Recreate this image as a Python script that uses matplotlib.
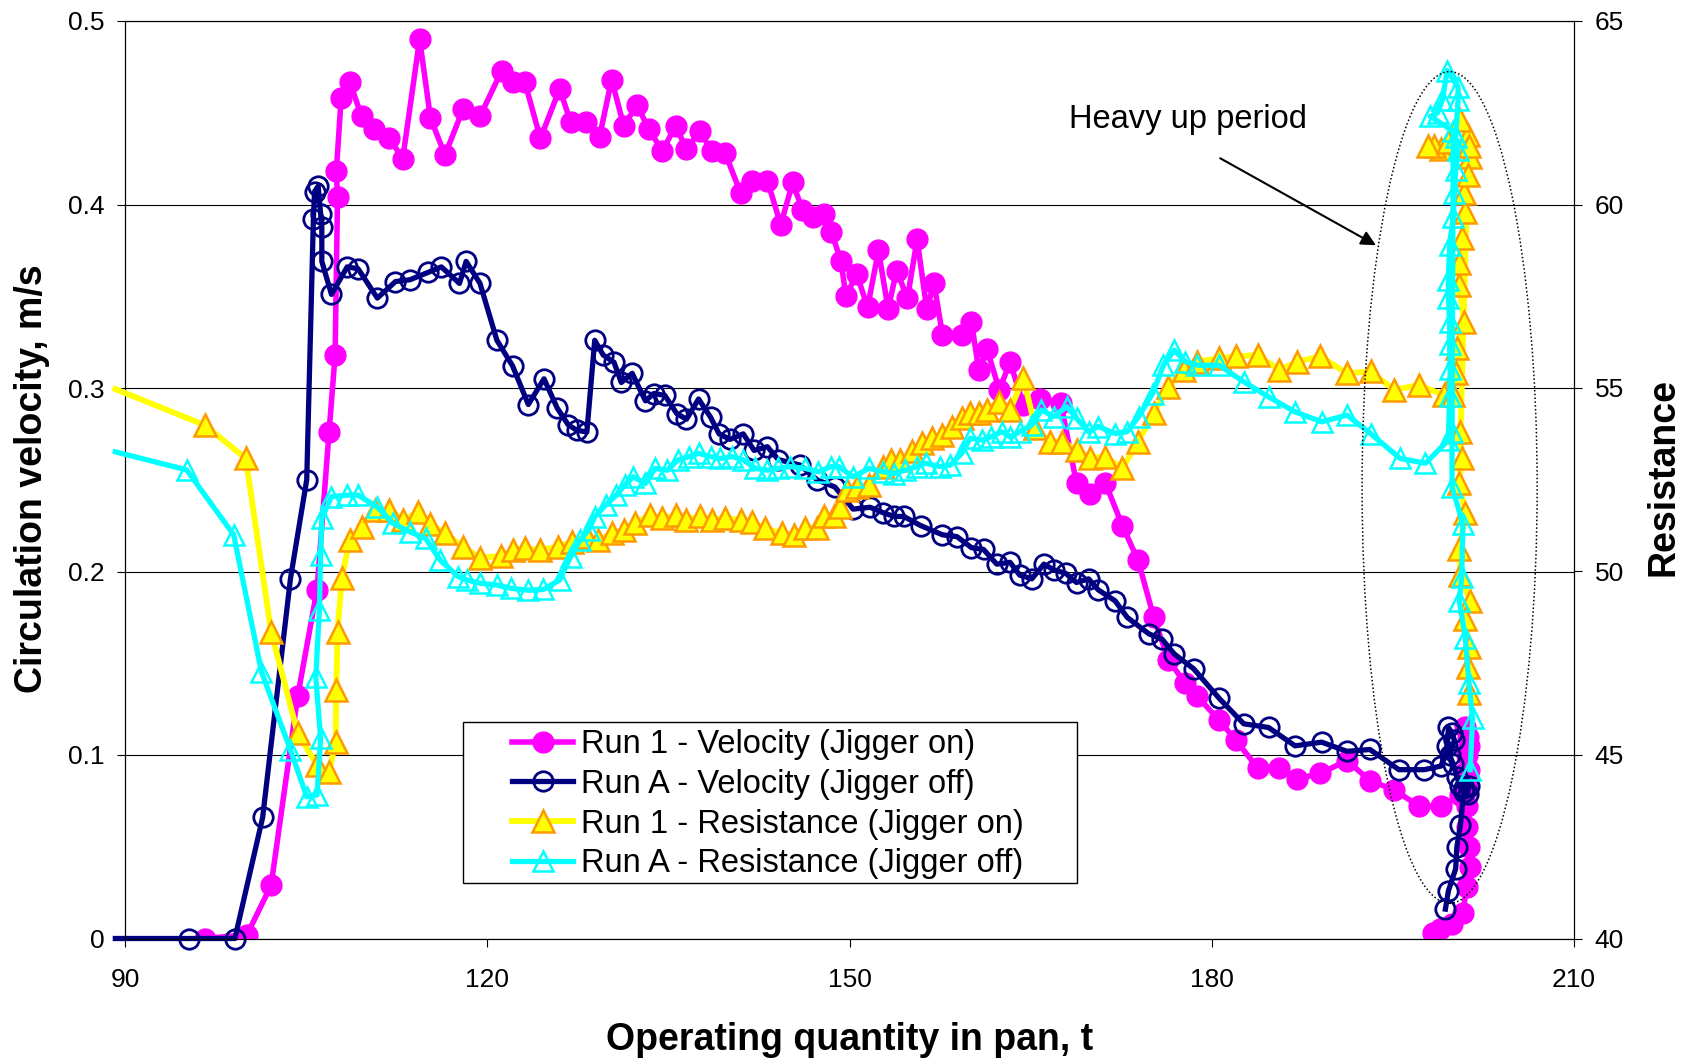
import matplotlib
matplotlib.use('Agg')
import matplotlib.pyplot as plt
from matplotlib.patches import Ellipse, Rectangle

plt.rcParams['font.family'] = ['Liberation Sans', 'DejaVu Sans']

# ---------------- data ----------------
run1_vel_x = [96.6, 100.1, 102.1, 104.3, 105.9, 106.9, 107.4, 107.6, 107.5, 107.9, 108.6, 109.6, 110.6,
              111.9, 113.0, 114.4, 115.3, 116.5, 118.0, 119.4, 121.2, 122.1, 123.1, 124.4, 126.0, 126.9,
              128.2, 129.3, 130.3, 131.3, 132.4, 133.4, 134.5, 135.6, 136.5, 137.6, 138.6, 139.7, 141.0,
              141.9, 143.2, 144.3, 145.3, 146.1, 147.0, 147.9, 148.5, 149.3, 149.7, 150.6, 151.5, 152.4,
              153.2, 153.9, 154.8, 155.6, 156.4, 157.0, 157.7, 159.3, 160.1, 160.7, 161.4, 162.4, 163.3,
              164.4, 165.8, 167.5, 168.8, 169.9, 171.2, 172.6, 173.9, 175.2, 176.4, 177.8, 178.8, 180.6,
              182.0, 183.8, 185.6, 187.1, 189.0, 191.2, 193.1, 195.1, 197.2, 199.0,
              200.6, 200.9, 201.1, 201.2, 201.0, 201.3, 201.3, 201.2, 201.1, 201.1, 201.3, 201.4, 201.1,
              200.8, 199.9, 198.9, 198.3]
run1_vel_y = [0.000, 0.002, 0.029, 0.132, 0.190, 0.276, 0.318, 0.404, 0.418, 0.458, 0.467, 0.448, 0.441,
              0.436, 0.425, 0.490, 0.447, 0.427, 0.452, 0.448, 0.473, 0.467, 0.467, 0.436, 0.463, 0.445,
              0.445, 0.437, 0.468, 0.443, 0.454, 0.441, 0.429, 0.443, 0.430, 0.440, 0.429, 0.428, 0.406,
              0.413, 0.413, 0.389, 0.412, 0.397, 0.393, 0.395, 0.385, 0.369, 0.350, 0.362, 0.344, 0.375,
              0.343, 0.364, 0.349, 0.381, 0.343, 0.357, 0.329, 0.329, 0.336, 0.310, 0.321, 0.299, 0.314,
              0.291, 0.294, 0.292, 0.248, 0.242, 0.248, 0.225, 0.206, 0.175, 0.152, 0.139, 0.132, 0.119,
              0.108, 0.093, 0.093, 0.087, 0.090, 0.097, 0.086, 0.081, 0.072, 0.072,
              0.078, 0.090, 0.100, 0.110, 0.115, 0.105, 0.092, 0.082, 0.072, 0.061, 0.050, 0.039, 0.028,
              0.014, 0.008, 0.005, 0.003]

runA_vel_x = [89.2, 95.3, 99.1, 101.4, 103.7, 105.05, 105.6, 105.7, 106.0, 106.2, 106.3, 106.3,
              107.1, 108.4, 109.3, 110.9, 112.4, 113.6, 115.1, 116.2, 117.7, 118.25, 119.4, 120.8, 122.1,
              123.4, 124.7, 125.8, 126.7, 127.4, 128.25, 128.9, 129.6, 130.5, 131.1, 132.0, 133.1, 133.8,
              134.7, 135.7, 136.5, 137.5, 138.5, 139.2, 140.1, 141.2, 142.1, 143.2, 144.1, 145.9, 147.3,
              148.8, 150.3, 151.7, 152.8, 153.7, 154.5, 155.9, 157.7, 158.9, 160.1, 161.1, 162.2, 163.3,
              164.1, 165.1, 166.1, 166.9, 167.9, 168.8, 169.8, 170.6, 172.0, 173.0, 174.8, 175.9, 176.9,
              178.5, 180.6, 182.65, 184.7, 186.9, 189.1, 191.2, 193.1, 195.5, 197.6, 199.0,
              199.5, 199.6, 199.9, 200.1, 199.7, 200.0, 200.3, 200.6, 200.9, 201.2, 201.3, 200.9, 200.6,
              200.3, 200.2, 199.6, 199.35]
runA_vel_y = [0.000, 0.000, 0.000, 0.066, 0.196, 0.250, 0.392, 0.407, 0.410, 0.395, 0.388,
              0.369, 0.351, 0.366, 0.365, 0.349, 0.358, 0.359, 0.363, 0.366, 0.357, 0.369, 0.357, 0.326,
              0.312, 0.291, 0.305, 0.289, 0.280, 0.277, 0.276, 0.326, 0.318, 0.314, 0.303, 0.308, 0.293,
              0.297, 0.296, 0.286, 0.283, 0.294, 0.284, 0.275, 0.272, 0.275, 0.266, 0.268, 0.261, 0.258,
              0.250, 0.246, 0.234, 0.235, 0.232, 0.230, 0.230, 0.225, 0.220, 0.219, 0.213, 0.212, 0.204,
              0.205, 0.198, 0.196, 0.204, 0.201, 0.199, 0.194, 0.196, 0.190, 0.184, 0.175, 0.166, 0.163,
              0.155, 0.147, 0.131, 0.117, 0.115, 0.105, 0.107, 0.102, 0.103, 0.092, 0.092, 0.094,
              0.105, 0.115, 0.112, 0.108, 0.100, 0.095, 0.088, 0.083, 0.080, 0.079, 0.083, 0.082, 0.062,
              0.050, 0.038, 0.026, 0.016]

run1_res_x = [89.2, 96.6, 100.0, 102.1, 104.3, 105.9, 106.9, 107.45, 107.5, 107.6, 107.95, 108.6, 109.6,
              110.7, 111.9, 113.05, 114.3, 115.3, 116.5, 118.0, 119.4, 121.1, 122.1, 123.1, 124.4, 125.9,
              127.0, 128.25, 129.2, 130.3, 131.3, 132.25, 133.5, 134.5, 135.6, 136.5, 137.6, 138.6, 139.7,
              141.0, 141.9, 143.0, 144.4, 145.4, 146.3, 147.3, 147.85, 148.7, 149.2, 149.8, 150.6, 151.6,
              152.8, 153.4, 154.2, 155.2, 156.0, 156.8, 157.7, 158.5, 159.3, 160.0, 160.7, 161.4, 162.35,
              163.3, 164.4, 165.4, 166.6, 167.6, 168.8, 169.9, 171.2, 172.6, 173.9, 175.2, 176.4, 177.7,
              178.8, 180.6, 182.0, 183.8, 185.6, 187.1, 189.0, 191.2, 193.15, 195.1, 197.15, 199.2,
              200.0, 200.2, 200.3, 200.9, 200.5, 200.5, 200.7, 201.0, 200.9, 201.4, 201.2, 200.6,
              199.0, 198.4, 197.9, 199.6, 201.3, 201.2,
              200.6, 200.7, 200.5, 201.0, 200.5, 200.6, 201.4, 201.0, 201.3, 201.2, 201.3]
run1_res_y = [54.97, 53.99, 53.08, 48.36, 45.59, 44.73, 44.55, 45.36, 46.77, 48.36, 49.81, 50.86, 51.20,
              51.68, 51.68, 51.40, 51.63, 51.30, 51.04, 50.67, 50.38, 50.42, 50.59, 50.63, 50.59, 50.68,
              50.81, 50.95, 50.86, 51.04, 51.13, 51.32, 51.54, 51.45, 51.54, 51.41, 51.50, 51.41, 51.45,
              51.41, 51.36, 51.18, 51.04, 51.00, 51.18, 51.18, 51.50, 51.50, 51.77, 52.22, 52.31, 52.36,
              52.86, 53.04, 53.04, 53.27, 53.50, 53.63, 53.72, 53.95, 54.18, 54.31, 54.31, 54.40, 54.63,
              54.40, 55.27, 53.90, 53.54, 53.54, 53.31, 53.09, 53.13, 52.81, 53.54, 54.31, 55.04, 55.49,
              55.72, 55.81, 55.86, 55.90, 55.49, 55.72, 55.86, 55.40, 55.45, 54.95, 55.08, 54.81,
              54.80, 55.40, 56.10, 56.80, 57.80, 58.40, 59.10, 59.80, 60.30, 61.30, 61.90, 62.30,
              61.50, 61.60, 61.60, 61.70, 61.60, 60.80,
              53.80, 53.10, 52.40, 51.60, 50.60, 49.90, 49.20, 48.70, 47.95, 47.40, 46.70]

runA_res_x = [89.2, 95.1, 99.0, 101.3, 103.7, 105.05, 105.9, 106.2, 105.8, 106.1, 106.2, 106.3, 107.1,
              108.4, 109.3, 110.85, 112.2, 113.6, 114.9, 116.1, 117.6, 118.3, 119.4, 120.8, 122.0, 123.4,
              124.65, 126.0, 126.9, 127.7, 128.4, 128.9, 129.8, 130.7, 131.4, 132.1, 133.1, 133.9, 134.9,
              135.8, 136.7, 137.5, 138.5, 139.3, 140.3, 141.2, 142.2, 143.2, 144.1, 145.1, 146.3, 147.4,
              148.5, 149.1, 150.3, 151.6, 152.8, 153.65, 154.6, 155.6, 156.3, 157.5, 158.35, 159.3, 160.0,
              161.0, 161.7, 162.6, 163.3, 164.1, 165.1, 165.9, 166.9, 168.0, 168.8, 169.8, 170.6, 172.0,
              173.0, 173.95, 175.1, 176.0, 176.9, 177.8, 178.8, 180.6, 182.65, 184.7, 186.9, 189.1, 191.2,
              193.15, 195.6, 197.7, 199.6,
              199.7, 199.75, 199.7, 199.7, 199.6, 199.6, 199.7, 200.0, 200.1, 200.2, 200.4, 200.2, 200.4,
              200.4, 199.5, 199.1, 198.7, 198.1, 200.0,
              199.9, 199.9, 200.8, 200.7, 200.5, 201.0, 201.3, 201.6, 201.4]
runA_res_y = [53.26, 52.77, 51.00, 47.27, 45.14, 43.86, 43.91, 45.45, 47.13, 48.95, 50.45, 51.45, 52.04,
              52.08, 52.08, 51.77, 51.31, 51.08, 50.90, 50.31, 49.86, 49.77, 49.68, 49.63, 49.54, 49.49,
              49.51, 49.77, 50.40, 50.86, 51.13, 51.49, 51.81, 52.08, 52.36, 52.58, 52.40, 52.81, 52.76,
              53.04, 53.13, 53.22, 53.13, 53.08, 53.13, 53.04, 52.81, 52.76, 52.81, 52.86, 52.81, 52.72,
              52.86, 52.86, 52.58, 52.81, 52.72, 52.67, 52.76, 52.86, 52.95, 52.86, 52.90, 53.22, 53.63,
              53.58, 53.67, 53.81, 53.67, 53.81, 53.99, 54.40, 54.22, 54.49, 54.17, 53.81, 53.95, 53.76,
              53.81, 54.22, 54.85, 55.62, 56.03, 55.72, 55.62, 55.62, 55.17, 54.76, 54.35, 54.08, 54.26,
              53.76, 53.08, 52.95, 53.58,
              54.77, 55.53, 56.20, 56.80, 57.45, 57.95, 58.90, 59.67, 60.30, 60.94, 61.48, 61.85, 62.85,
              63.20, 63.65, 62.85, 62.50, 62.40, 62.00,
              53.80, 52.30, 51.30, 49.85, 49.20, 48.20, 46.95, 46.00, 44.60]

x_ticks = [90, 120, 150, 180, 210]
vel_ticks = [0, 0.1, 0.2, 0.3, 0.4, 0.5]
vel_tick_labels = ['0', '0.1', '0.2', '0.3', '0.4', '0.5']
res_ticks = [40, 45, 50, 55, 60, 65]

labels = ['Run 1 - Velocity (Jigger on)', 'Run A - Velocity (Jigger off)',
          'Run 1 - Resistance (Jigger on)', 'Run A - Resistance (Jigger off)']

# ---------------- figure ----------------
W, H = 1688, 1058
fig = plt.figure(figsize=(W / 100, H / 100), dpi=100)
L, R, T, B = 125, 1574, 21, 938.5
ax = fig.add_axes([L / W, 1 - B / H, (R - L) / W, (B - T) / H])
ax2 = ax.twinx()

ax.set_xlim(90, 210)
ax.set_ylim(0, 0.5)
ax2.set_ylim(40, 65)

ax.yaxis.grid(True, color='black', lw=0.8)
ax.set_axisbelow(True)

l1, = ax.plot(run1_vel_x, run1_vel_y, color='#FF00FF', lw=4, marker='o', ms=15,
              mfc='#FF00FF', mec='#FF00FF', solid_joinstyle='round', zorder=3)
l2, = ax.plot(runA_vel_x, runA_vel_y, color='#000080', lw=3.8, marker='o', ms=14,
              mfc='none', mec='#000080', mew=2, solid_joinstyle='round', zorder=4,
              markevery=list(range(1, len(runA_vel_x))), clip_on=False)
l3, = ax2.plot(run1_res_x, run1_res_y, color='#FFFF00', lw=4.2, marker='^', ms=16,
               mfc='#FFFF00', mec='#FF9900', mew=1.8, solid_joinstyle='round', zorder=3,
               markevery=list(range(1, len(run1_res_x))), clip_on=False)
l4, = ax2.plot(runA_res_x, runA_res_y, color='#00FFFF', lw=3.8, marker='^', ms=15,
               mfc='none', mec='#00FFFF', mew=1.8, solid_joinstyle='round', zorder=4,
               markevery=list(range(1, len(runA_res_x))), clip_on=False)

ax.set_xticks(x_ticks)
ax.set_yticks(vel_ticks)
ax.set_yticklabels(vel_tick_labels)
ax2.set_yticks(res_ticks)

ax.tick_params(axis='y', direction='out', length=6, width=0.8, labelsize=19, pad=9)
ax.tick_params(axis='x', direction='out', length=6, width=0.8, labelsize=19, pad=15)
ax2.tick_params(axis='y', direction='out', length=6, width=0.8, labelsize=19, pad=9)

for a in (ax, ax2):
    for s in a.spines.values():
        s.set_linewidth(0.8)
        s.set_color('black')

# axis titles
fig.text(32 / W, 1 - 479 / H, 'Circulation velocity, m/s', rotation=90, ha='center', va='center',
         fontsize=27, fontweight='bold')
fig.text(1663 / W, 1 - 477 / H, 'Resistance', rotation=90, ha='center', va='center',
         fontsize=27, fontweight='bold')
fig.text(850 / W, 1 - 1039.5 / H, 'Operating quantity in pan, t', ha='center', va='center',
         fontsize=27, fontweight='bold')

# annotation
ax2.text(168.2, 62.32, 'Heavy up period', fontsize=23.5, ha='left', va='center')
ax2.annotate('', xy=(193.6, 58.89), xytext=(180.7, 61.26),
             arrowprops=dict(arrowstyle='-|>', color='black', lw=1.5, mutation_scale=22,
                             shrinkA=0, shrinkB=0))
ax2.add_patch(Ellipse((199.7, 52.29), width=14.5, height=22.66, fill=False, ec='black',
                      lw=1.1, ls=(0, (1, 1.5)), zorder=6))

# legend
fig.patches.append(Rectangle((463 / W, 1 - 883 / H), (1077 - 463) / W, (883 - 722) / H,
                             transform=fig.transFigure, fill=True, fc='white', ec='black',
                             lw=1.0, zorder=10))
leg = fig.legend([l1, l2, l3, l4], labels, loc='upper left',
                 bbox_to_anchor=(512 / W, 1 - 729 / H), bbox_transform=fig.transFigure,
                 frameon=False, fontsize=23.5, handlelength=1.87, handletextpad=0.23,
                 labelspacing=0.27, borderpad=0, borderaxespad=0, numpoints=1)
leg.set_zorder(11)

fig.savefig('out.png', dpi=100)
